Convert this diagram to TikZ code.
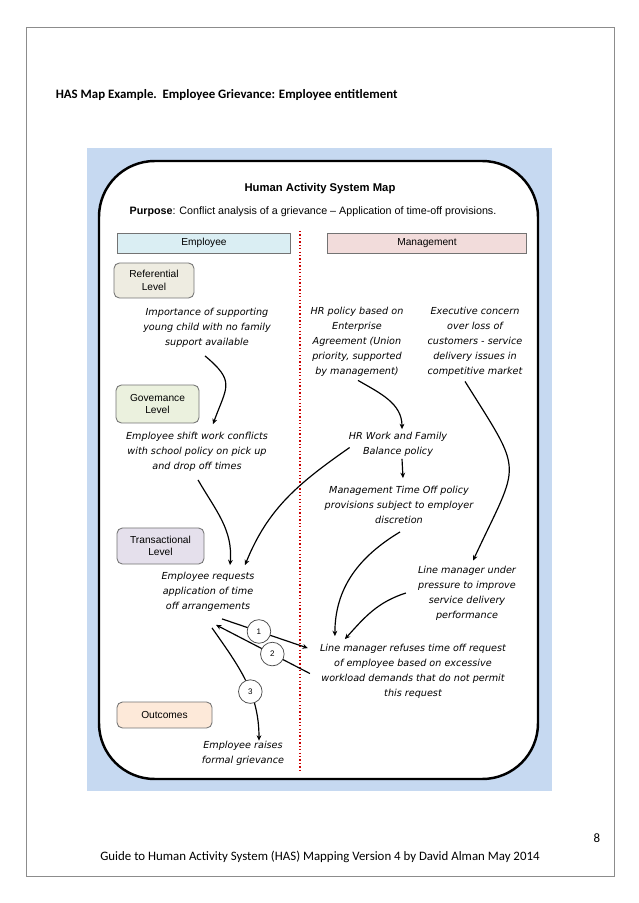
\documentclass[tikz,border=0pt]{standalone}
\usepackage{fontspec}
\setmainfont{Carlito}
\newfontfamily\arialfont{Liberation Sans}
\newfontfamily\handfont{DejaVu Sans}
\usetikzlibrary{positioning,arrows.meta}
\definecolor{mapblue}{HTML}{C6D9F1}
\definecolor{empfill}{HTML}{DAEEF3}
\definecolor{mgtfill}{HTML}{F2DCDB}
\definecolor{reffill}{HTML}{EEECE1}
\definecolor{govfill}{HTML}{EBF1DE}
\definecolor{trafill}{HTML}{E5E0EC}
\definecolor{outfill}{HTML}{FDE9D9}
\begin{document}
\begin{tikzpicture}[x=0.9326pt,y=-0.9326pt]
        \tikzstyle{level}=[draw=black!55,rounded corners=5pt,line width=0.8pt,align=center,inner sep=0pt,font=\arialfont\fontsize{9.5}{11.5}\selectfont]
        \tikzstyle{side}=[draw=black!55,line width=0.8pt,inner sep=0pt,font=\arialfont\fontsize{9.5}{11}\selectfont]
        \tikzstyle{note}=[align=center,inner sep=0pt,font=\handfont\itshape\fontsize{9}{14}\selectfont]
        \tikzstyle{edge}=[draw,line width=1.1pt,->,>={Stealth[length=5pt,width=4.5pt]}]
        \tikzstyle{num}=[circle,draw=black!70,fill=white,line width=0.7pt,minimum size=22pt,inner sep=0pt,font=\arialfont\fontsize{7.5}{8}\selectfont]
        \useasboundingbox (0,0) rectangle (638,903);
        % page
        \draw[black!45,line width=0.8pt] (26,27) rectangle (614,876);
        \node [anchor=west,font=\bfseries\fontsize{12}{14}\selectfont] (pagetitle) at (52,95) {HAS Map Example.\ \ Employee Grievance: Employee entitlement};
        \node [font=\fontsize{12}{14}\selectfont] (pagenum) at (597,838) {8};
        \node [font=\fontsize{12}{14}\selectfont] (footer) at (320,857) {Guide to Human Activity System (HAS) Mapping Version 4 by David Alman May 2014};
        % map background
        \fill[mapblue] (87,148) rectangle (552,791);
        \draw[line width=2.3pt,fill=white,rounded corners=52pt] (99,161) rectangle (538,779);
        \draw[red!80!black,line width=1.2pt,dotted] (300,231) -- (300,773);
        \node [font=\arialfont\bfseries\fontsize{10.5}{12}\selectfont] (maptitle) at (320,189) {Human Activity System Map};
        \node [font=\arialfont\fontsize{10}{12}\selectfont] (purpose) at (313,212) {\textbf{Purpose}: Conflict analysis of a grievance – Application of time-off provisions.};
        \node [side,fill=empfill,minimum width=162pt,minimum height=18.7pt] (employee) at (204,243) {Employee};
        \node [side,fill=mgtfill,minimum width=185pt,minimum height=18.7pt] (management) at (427,243) {Management};
        % levels
        \node [level,fill=reffill,minimum width=74.6pt,minimum height=32.6pt] (referential) at (154,280.5) {Referential\\Level};
        \node [level,fill=govfill,minimum width=77.4pt,minimum height=35.4pt] (governance) at (157.5,404) {Govemance\\Level};
        \node [level,fill=trafill,minimum width=81.1pt,minimum height=33.6pt] (transactional) at (160.5,546) {Transactional\\Level};
        \node [level,fill=outfill,minimum width=88.6pt,minimum height=24.2pt] (outcomes) at (164.5,715) {Outcomes};
        % employee side
        \node [note] (importance) at (207,328) {Importance of supporting\\young child with no family\\support available};
        \node [note] (shift) at (197,452) {Employee shift work conflicts\\with school policy on pick up\\and drop off times};
        \node [note] (requests) at (208,592) {Employee requests\\application of time\\off arrangements};
        \node [note] (raises) at (243,753) {Employee raises\\formal grievance};
        % management side
        \node [note] (hrpolicy) at (357,341.5) {HR policy based on\\Enterprise\\Agreement (Union\\priority, supported\\by management)};
        \node [note] (executive) at (475,341.5) {Executive concern\\over loss of\\customers - service\\delivery issues in\\competitive market};
        \node [note] (hrwork) at (398,444.5) {HR Work and Family\\Balance policy};
        \node [note] (timeoff) at (399,505) {Management Time Off policy\\provisions subject to employer\\discretion};
        \node [note] (pressure) at (467,593) {Line manager under\\pressure to improve\\service delivery\\performance};
        \node [note] (refuses) at (413,671.5) {Line manager refuses time off request\\of employee based on excessive\\workload demands that do not permit\\this request};
        % connectors
        \path[edge] ([shift={(-2,8)}]importance.south) to[out=-40,in=70,looseness=1.5] ([shift={(16,-8)}]shift.north);
        \path[edge] ([shift={(1,4)}]hrpolicy.south) to[out=-30,in=90] ([shift={(4,-3)}]hrwork.north);
        \path[edge] ([shift={(4,2)}]hrwork.south) -- ([shift={(4,-8)}]timeoff.north);
        \path[edge] ([shift={(-10,5)}]executive.south) to[out=-58,in=65,looseness=1.6] ([shift={(6,-5)}]pressure.north);
        \path[edge] ([shift={(1,8)}]timeoff.south) to[out=-149,in=90] ([shift={(15,-8)}]refuses.north west);
        \path[edge] ([shift={(-12,0)}]pressure.west) to[out=-162,in=48] ([shift={(25,-5)}]refuses.north west);
        \path[edge] ([shift={(1,8)}]shift.south) to[out=-60,in=85] ([shift={(22,-7)}]requests.north);
        \path[edge] ([shift={(1,3)}]hrwork.west) to[out=-145,in=68] ([shift={(37,-7)}]requests.north);
        \path[edge] ([shift={(14,7)}]requests.south) -- node[num,pos=0.43] {1} ([shift={(-12,4)}]refuses.north west);
        \path[edge] ([shift={(-10,2)}]refuses.west) -- node[num,pos=0.4] {2} ([shift={(8,13)}]requests.south);
        \path[edge] ([shift={(4,16)}]requests.south) to[out=-55,in=90] node[num,pos=0.6] {3} ([shift={(16,0)}]raises.north);
\end{tikzpicture}
\end{document}
